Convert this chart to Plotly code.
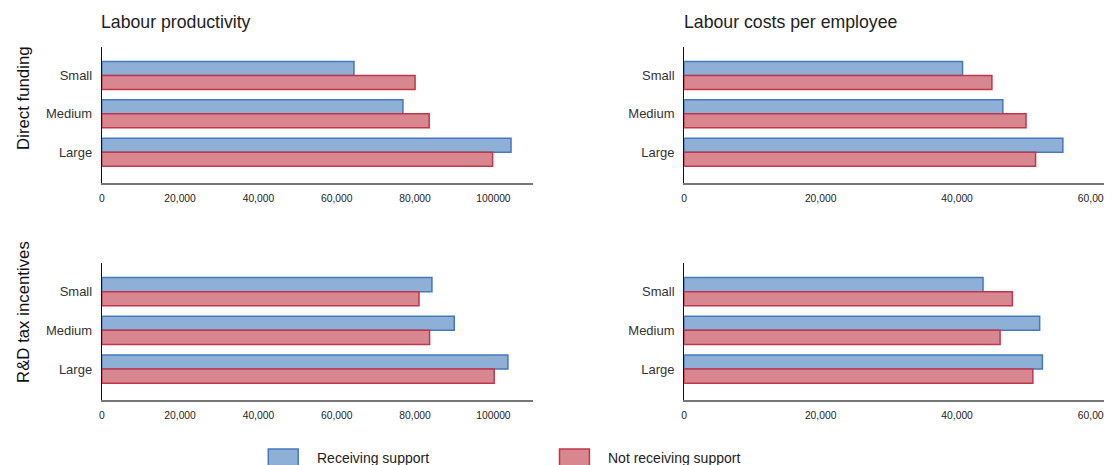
import plotly.graph_objects as go

categories = ["Small", "Medium", "Large"]
series_names = ["Receiving support", "Not receiving support"]

# Direct funding
prod_direct_receiving = [64400, 76900, 104500]
prod_direct_not = [80000, 83600, 99800]
cost_direct_receiving = [40800, 46700, 55500]
cost_direct_not = [45100, 50100, 51500]

# R&D tax incentives
prod_tax_receiving = [84300, 90000, 103700]
prod_tax_not = [81000, 83700, 100200]
cost_tax_receiving = [43800, 52100, 52500]
cost_tax_not = [48100, 46300, 51100]

prod_tickvals = [0, 20000, 40000, 60000, 80000, 100000]
prod_ticktext = ["0", "20,000", "40,000", "60,000", "80,000", "100000"]
cost_tickvals = [0, 20000, 40000, 60000]
cost_ticktext = ["0", "20,000", "40,000", "60,000"]

panel_titles = ["Labour productivity", "Labour costs per employee"]
row_titles = ["Direct funding", "R&D tax incentives"]

OFF = 8  # page offset of the plot inside the browser window
W, H = 1112 - OFF, 465 - OFF
BLUE_FILL = "rgb(143,176,214)"
BLUE_LINE = "rgb(70,120,190)"
RED_FILL = "rgb(216,135,144)"
RED_LINE = "rgb(192,55,75)"
FONT = "Liberation Sans, Arial, sans-serif"

fig = go.Figure()

panels = [
    ("x", "y", prod_direct_receiving, prod_direct_not),
    ("x2", "y2", cost_direct_receiving, cost_direct_not),
    ("x3", "y3", prod_tax_receiving, prod_tax_not),
    ("x4", "y4", cost_tax_receiving, cost_tax_not),
]
for xa, ya, rec, nrec in panels:
    fig.add_trace(go.Bar(y=categories, x=rec, orientation="h", name=series_names[0],
                         marker=dict(color=BLUE_FILL, line=dict(color=BLUE_LINE, width=1.5)),
                         xaxis=xa, yaxis=ya, showlegend=False))
    fig.add_trace(go.Bar(y=categories, x=nrec, orientation="h", name=series_names[1],
                         marker=dict(color=RED_FILL, line=dict(color=RED_LINE, width=1.5)),
                         xaxis=xa, yaxis=ya, showlegend=False))

def px_x(p):
    return (p - OFF) / W

def px_y(p):
    return 1 - (p - OFF) / H

left_dom = [px_x(99), px_x(531)]
right_dom = [px_x(683), 1.0]
top_dom = [px_y(183), px_y(47)]
bot_dom = [px_y(400), px_y(263)]

xcommon = dict(showgrid=False, zeroline=False, showline=True, linecolor="#777", linewidth=2,
               ticks="", tickfont=dict(size=10.3, color="#222", family=FONT), ticklabelstandoff=5)
ycommon = dict(showgrid=False, zeroline=False, showline=True, linecolor="#111", linewidth=1,
               ticks="", tickfont=dict(size=13, color="#333", family=FONT), ticklabelstandoff=6,
               range=[2.8, -0.74], type="category")

fig.update_layout(
    width=W, height=H,
    margin=dict(l=0, r=0, t=0, b=0),
    paper_bgcolor="white", plot_bgcolor="white",
    barmode="group", bargap=0.27, bargroupgap=0,
    font=dict(family=FONT),
    xaxis=dict(domain=left_dom, anchor="y", range=[0, 110000], tickvals=prod_tickvals, ticktext=prod_ticktext, **xcommon),
    yaxis=dict(domain=top_dom, anchor="x", **ycommon),
    xaxis2=dict(domain=right_dom, anchor="y2", range=[0, 62700], tickvals=cost_tickvals, ticktext=cost_ticktext, **xcommon),
    yaxis2=dict(domain=top_dom, anchor="x2", **ycommon),
    xaxis3=dict(domain=left_dom, anchor="y3", range=[0, 110000], tickvals=prod_tickvals, ticktext=prod_ticktext, **xcommon),
    yaxis3=dict(domain=bot_dom, anchor="x3", **ycommon),
    xaxis4=dict(domain=right_dom, anchor="y4", range=[0, 62700], tickvals=cost_tickvals, ticktext=cost_ticktext, **xcommon),
    yaxis4=dict(domain=bot_dom, anchor="x4", **ycommon),
)

annotations = [
    dict(text=panel_titles[0], x=px_x(96), y=px_y(22), xref="paper", yref="paper",
         xanchor="left", yanchor="middle", showarrow=False, font=dict(size=17.7, color="#222", family=FONT)),
    dict(text=panel_titles[1], x=px_x(681), y=px_y(22), xref="paper", yref="paper",
         xanchor="left", yanchor="middle", showarrow=False, font=dict(size=17.7, color="#222", family=FONT)),
    dict(text=row_titles[0], x=px_x(20), y=px_y(98), xref="paper", yref="paper", textangle=-90,
         xanchor="center", yanchor="middle", showarrow=False, font=dict(size=16.8, color="#111", family=FONT)),
    dict(text=row_titles[1], x=px_x(20), y=px_y(312), xref="paper", yref="paper", textangle=-90,
         xanchor="center", yanchor="middle", showarrow=False, font=dict(size=16.8, color="#111", family=FONT)),
    dict(text=series_names[0], x=px_x(313), y=px_y(458), xref="paper", yref="paper",
         xanchor="left", yanchor="middle", showarrow=False, font=dict(size=14, color="#222", family=FONT)),
    dict(text=series_names[1], x=px_x(605), y=px_y(458), xref="paper", yref="paper",
         xanchor="left", yanchor="middle", showarrow=False, font=dict(size=14, color="#222", family=FONT)),
]
fig.update_layout(annotations=annotations)

shapes = [
    dict(type="rect", xref="paper", yref="paper", x0=px_x(266), x1=px_x(296), y0=px_y(470), y1=px_y(449),
         fillcolor=BLUE_FILL, line=dict(color=BLUE_LINE, width=1.5)),
    dict(type="rect", xref="paper", yref="paper", x0=px_x(558), x1=px_x(588), y0=px_y(470), y1=px_y(449),
         fillcolor=RED_FILL, line=dict(color=RED_LINE, width=1.5)),
]
fig.update_layout(shapes=shapes)

fig.write_html("out.html")
